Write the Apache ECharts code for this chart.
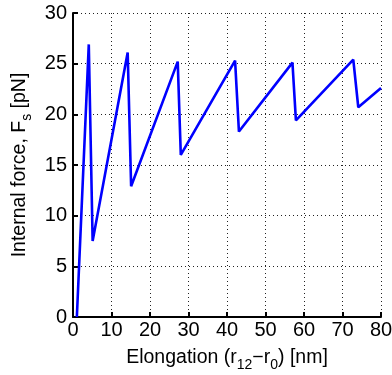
<!DOCTYPE html>
<html>
<head>
<meta charset="utf-8">
<script src="https://cdn.jsdelivr.net/npm/echarts@6/dist/echarts.min.js"></script>
<style>
  html, body { margin: 0; padding: 0; background: #fff; }
  #chart { width: 392px; height: 375px; }
</style>
</head>
<body>
<div id="chart"></div>
<script>
// Elongation (nm) and internal force (pN) along the sawtooth unfolding curve
const elongation = [1, 4.1, 5.1, 14.2, 15.1, 27.2, 28.0, 42.1, 43.1, 57.0, 57.9, 72.8, 74.1, 80];
const force      = [0, 26.9, 7.5, 26.1, 12.9, 25.2, 16.0, 25.3, 18.3, 25.1, 19.4, 25.4, 20.7, 22.6];

const xTicks = [0, 10, 20, 30, 40, 50, 60, 70, 80];
const yTicks = [0, 5, 10, 15, 20, 25, 30];

const FONT = 'Liberation Sans, Arial, sans-serif';
const TITLE_SIZE = 19.5;
const SUB_STYLE = { fontSize: 14, fontFamily: FONT, color: '#000', padding: [14, 0, 0, 0] };

const chart = echarts.init(document.getElementById('chart'), null, { renderer: 'canvas' });

const gridLine = { show: true, lineStyle: { color: '#222', type: [1, 3], width: 1 } };
const axisLine = { show: true, onZero: false, lineStyle: { color: '#000', width: 2 } };
const axisTick = { show: true, inside: true, length: 5, lineStyle: { color: '#000', width: 2 } };

chart.setOption({
  animation: false,
  grid: { left: 73, right: 11, top: 13, bottom: 58, containLabel: false, outerBoundsMode: 'none' },
  xAxis: {
    type: 'value',
    min: xTicks[0], max: xTicks[xTicks.length - 1], interval: 10,
    axisLine: axisLine,
    axisTick: axisTick,
    splitLine: gridLine,
    axisLabel: { color: '#000', fontSize: 20, fontFamily: FONT, margin: 3 },
    name: 'Elongation (r{sub|12}−r{sub|0}) [nm]',
    nameLocation: 'middle',
    nameGap: 27,
    nameTextStyle: {
      color: '#000', fontSize: TITLE_SIZE, fontFamily: FONT,
      rich: { sub: SUB_STYLE }
    }
  },
  yAxis: {
    type: 'value',
    min: yTicks[0], max: yTicks[yTicks.length - 1], interval: 5,
    axisLine: axisLine,
    axisTick: axisTick,
    splitLine: gridLine,
    axisLabel: { color: '#000', fontSize: 20, fontFamily: FONT, margin: 6 },
    name: 'Internal force, F{sub|s} [pN]',
    nameLocation: 'middle',
    nameRotate: 90,
    nameGap: 38,
    nameTextStyle: {
      color: '#000', fontSize: TITLE_SIZE, fontFamily: FONT,
      rich: { sub: SUB_STYLE }
    }
  },
  series: [{
    type: 'line',
    data: elongation.map((x, i) => [x, force[i]]),
    symbol: 'none',
    lineStyle: { color: '#0000ff', width: 2.6 },
    clip: true
  }]
});
</script>
</body>
</html>
